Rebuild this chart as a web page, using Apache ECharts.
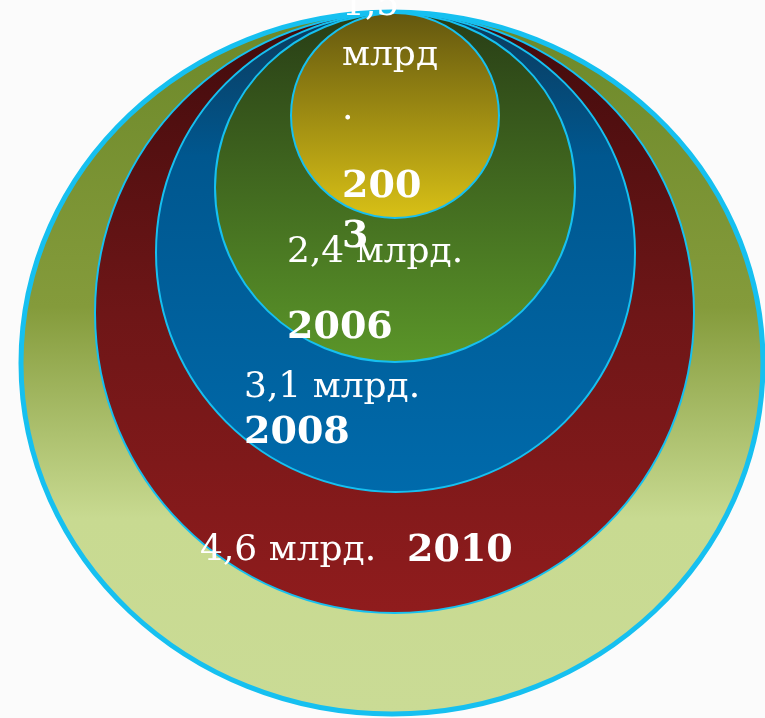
<!DOCTYPE html>
<html>
	<head>
		<meta charset="utf-8">
		<title>млрд.</title>
		<script src="https://cdn.jsdelivr.net/npm/echarts@6/dist/echarts.min.js"></script>
		<style>
			html, body { margin: 0; padding: 0; background: #fbfbfb; }
		</style>
	</head>
	<body>
		<div id="box" style="width: 765px;height: 718px;"></div>
		<script>
			// данные
			var years = ['2010', '2008', '2006', '2003']
			var values = ['4,6', '3,1', '2,4', '1,5']
			var unit = 'млрд.'

			// внешнее кольцо + 4 года, рамки в единицах осей
			var ringBox = [
				[21, 12, 763, 714],
				[95, 13, 694, 613],
				[156, 13, 635, 492],
				[215, 13, 575, 362],
				[291, 13, 499, 218]
			]
			var ringColors = [
				[[0, '#6c8829'], [0.42, '#849b3b'], [0.72, '#c8da91'], [1, '#cadb95']],
				[[0, '#400b0c'], [0.5, '#6e1617'], [1, '#901c1d']],
				[[0, '#0c3a5b'], [0.3, '#00578f'], [1, '#006aab']],
				[[0, '#283d16'], [1, '#5b9629']],
				[[0, '#62560f'], [1, '#d9c116']]
			]

			var ringData = ringBox.map(function (b, i) { return [i] })

			function grad(stops) {
				return new echarts.graphic.LinearGradient(0, 0, 0, 1, stops.map(function (s) {
					return { offset: s[0], color: s[1] }
				}))
			}

			var mCharts = echarts.init(document.querySelector('#box'))
			var font = '"DejaVu Serif", "Liberation Serif", serif'

			var option = {
				backgroundColor: '#fbfbfb',
				animation: false,
				grid: { left: 0, right: 0, top: 0, bottom: 0 },
				xAxis: { type: 'value', min: 0, max: 765, show: false },
				yAxis: { type: 'value', min: 0, max: 718, inverse: true, show: false },
				series: [{
					type: 'custom',
					data: ringData,
					renderItem: function (params, api) {
						var i = api.value(0)
						var b = ringBox[i]
						var p1 = api.coord([b[0], b[1]])
						var p2 = api.coord([b[2], b[3]])
						return {
							type: 'ellipse',
							shape: {
								cx: (p1[0] + p2[0]) / 2,
								cy: (p1[1] + p2[1]) / 2,
								rx: Math.abs(p2[0] - p1[0]) / 2,
								ry: Math.abs(p2[1] - p1[1]) / 2
							},
							style: {
								fill: grad(ringColors[i]),
								stroke: '#16c0f0',
								lineWidth: i === 0 ? 5 : 2
							}
						}
					}
				}, {
					type: 'custom',
					data: years.map(function (y, i) { return [i] }),
					z: 10,
					renderItem: function (params, api) {
						var i = api.value(0)
						var light = { fill: '#fff', font: '36px ' + font }
						var bold = { fill: '#fff', font: 'bold 38px ' + font }
						var txt = values[i] + ' ' + unit
						var items = []
						function t(str, x, y, st) {
							var p = api.coord([x, y])
							items.push({
								type: 'text', x: p[0], y: p[1],
								style: Object.assign({ text: str, align: 'left', verticalAlign: 'middle' }, st)
							})
						}
						if (i === 0) {
							t(txt, 200, 551, light)
							t(years[i], 407, 551, bold)
						} else if (i === 1) {
							t(txt, 244, 388, light)
							t(years[i], 244, 433, bold)
						} else if (i === 2) {
							t(txt, 287, 253, light)
							t(years[i], 287, 328, bold)
						} else {
							// перенос как в исходнике
							t(values[i], 342, 6, light)
							t(unit.slice(0, -1), 342, 56, light)
							t('.', 342, 110, light)
							t(years[i].slice(0, 3), 342, 187, bold)
							t(years[i].slice(3), 342, 237, bold)
						}
						return { type: 'group', children: items }
					}
				}]
			}
			mCharts.setOption(option)
		</script>
	</body>
</html>
